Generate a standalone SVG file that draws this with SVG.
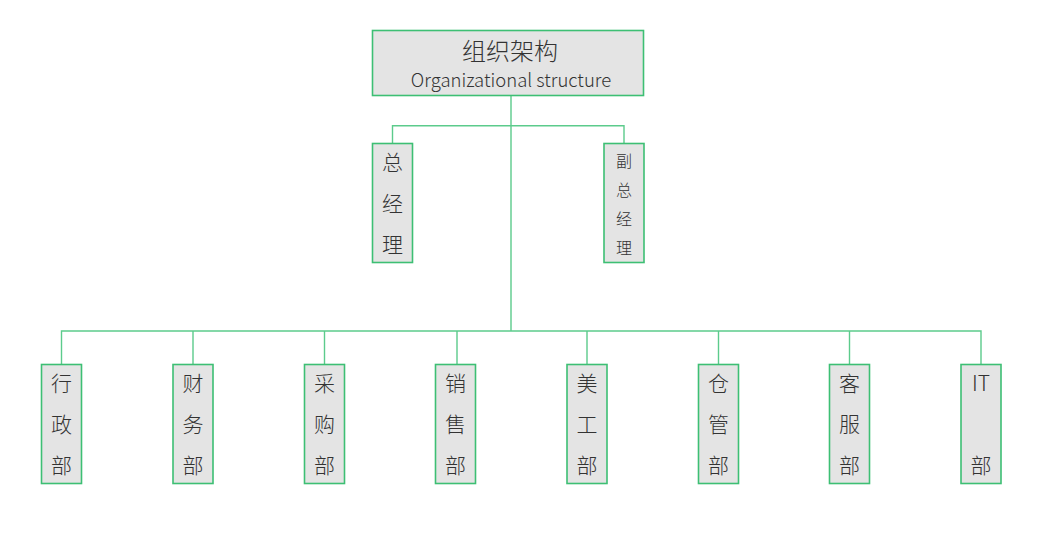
<svg xmlns="http://www.w3.org/2000/svg" width="1039" height="556" viewBox="0 0 1039 556">
<style>
.box{fill:#e4e4e4;stroke:#3dbf74;stroke-width:1.6}
.ln{fill:none;stroke:#5ccb8c;stroke-width:1.4}
text{font-family:"Noto Sans CJK SC","Noto Sans",sans-serif;fill:#333;text-anchor:middle;font-weight:300}
.v{font-size:21px}
.s{font-size:16px}
</style>
<rect width="1039" height="556" fill="#fff"/>
<g id="connectors">
<path class="ln" d="M511 96V331M392.5 143.5V125.7H624V143.5"/>
<path class="ln" d="M61.5 364.5V331H981V364.5M193 331V364.5M324.5 331V364.5M457 331V364.5M587 331V364.5M718.5 331V364.5M849.5 331V364.5"/>
</g>
<g id="root">
<rect class="box" x="372.5" y="30.5" width="271" height="65"/>
<text x="510" y="60" font-size="24">组织架构</text>
<text x="511" y="87" font-size="18.5">Organizational structure</text>
</g>
<g id="gm">
<rect class="box" x="372.5" y="143.5" width="40" height="119"/>
<text class="v" x="392.5" y="170">总</text>
<text class="v" x="392.5" y="211">经</text>
<text class="v" x="392.5" y="252">理</text>
</g>
<g id="vgm">
<rect class="box" x="604" y="143.5" width="40" height="119"/>
<text class="s" x="624" y="167">副</text>
<text class="s" x="624" y="196">总</text>
<text class="s" x="624" y="225">经</text>
<text class="s" x="624" y="254">理</text>
</g>
<g id="d1"><rect class="box" x="41.5" y="364.5" width="40" height="119"/><text class="v" x="61.5" y="391">行</text><text class="v" x="61.5" y="432">政</text><text class="v" x="61.5" y="473">部</text></g>
<g id="d2"><rect class="box" x="173" y="364.5" width="40" height="119"/><text class="v" x="193" y="391">财</text><text class="v" x="193" y="432">务</text><text class="v" x="193" y="473">部</text></g>
<g id="d3"><rect class="box" x="304.5" y="364.5" width="40" height="119"/><text class="v" x="324.5" y="391">采</text><text class="v" x="324.5" y="432">购</text><text class="v" x="324.5" y="473">部</text></g>
<g id="d4"><rect class="box" x="435.5" y="364.5" width="40" height="119"/><text class="v" x="455.5" y="391">销</text><text class="v" x="455.5" y="432">售</text><text class="v" x="455.5" y="473">部</text></g>
<g id="d5"><rect class="box" x="567" y="364.5" width="40" height="119"/><text class="v" x="587" y="391">美</text><text class="v" x="587" y="432">工</text><text class="v" x="587" y="473">部</text></g>
<g id="d6"><rect class="box" x="698.5" y="364.5" width="40" height="119"/><text class="v" x="718.5" y="391">仓</text><text class="v" x="718.5" y="432">管</text><text class="v" x="718.5" y="473">部</text></g>
<g id="d7"><rect class="box" x="829.5" y="364.5" width="40" height="119"/><text class="v" x="849.5" y="391">客</text><text class="v" x="849.5" y="432">服</text><text class="v" x="849.5" y="473">部</text></g>
<g id="d8"><rect class="box" x="961" y="364.5" width="40" height="119"/><text class="v" x="981" y="391">IT</text><text class="v" x="981" y="473">部</text></g>
</svg>
